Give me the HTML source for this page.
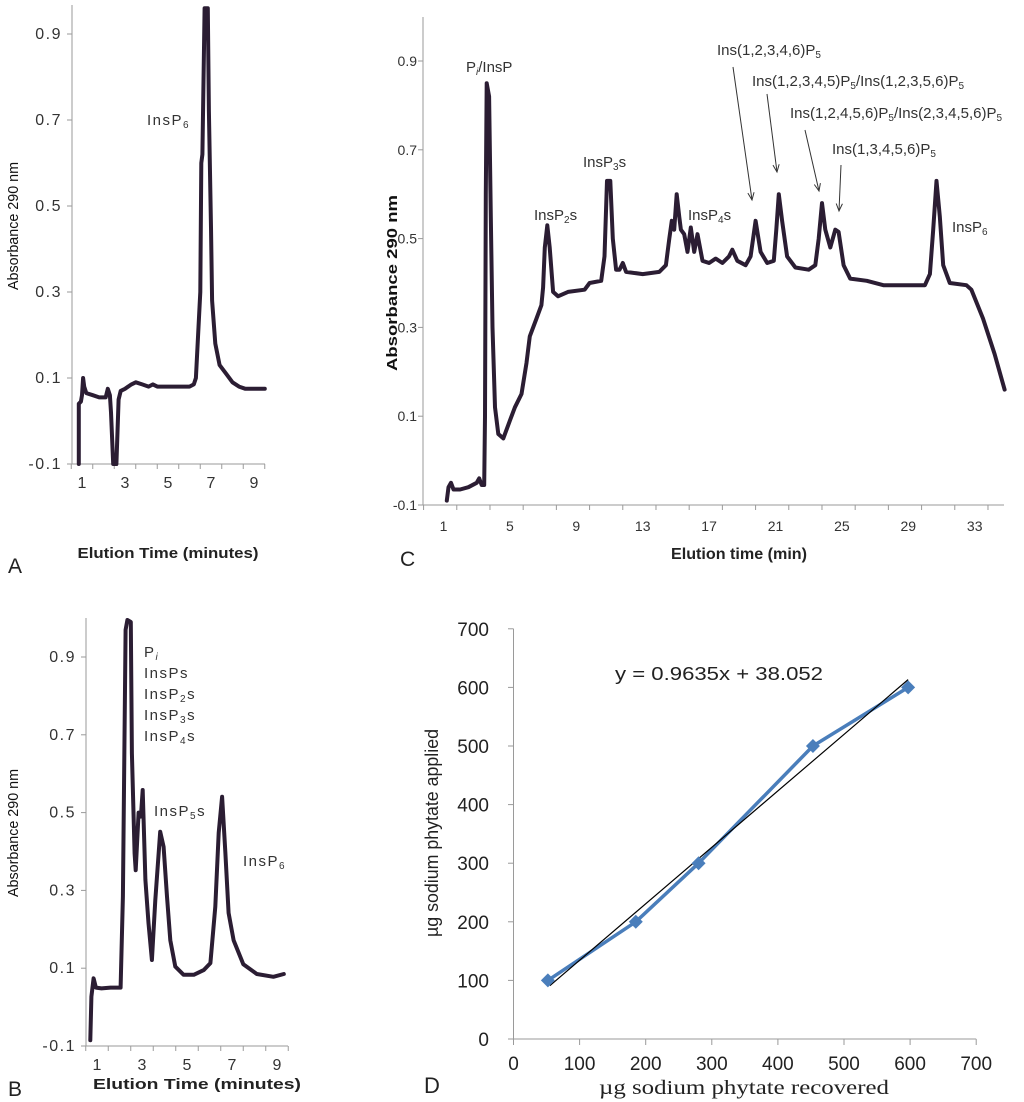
<!DOCTYPE html>
<html><head><meta charset="utf-8"><style>
html,body{margin:0;padding:0;background:#fff;}
svg{display:block;font-family:"Liberation Sans",sans-serif;}
</style></head><body>
<svg id="fig" xmlns="http://www.w3.org/2000/svg" width="1024" height="1102" viewBox="0 0 1024 1102">
<rect width="1024" height="1102" fill="#fff"/>
<g id="annC" font-size="15" fill="#333">
  <text x="466" y="72">P<tspan font-size="10" dy="3" font-style="italic">i</tspan><tspan dy="-3">/InsP</tspan></text>
  <text x="534" y="220">InsP<tspan font-size="10" dy="3">2</tspan><tspan dy="-3">s</tspan></text>
  <text x="583" y="167">InsP<tspan font-size="10" dy="3">3</tspan><tspan dy="-3">s</tspan></text>
  <text x="688" y="220">InsP<tspan font-size="10" dy="3">4</tspan><tspan dy="-3">s</tspan></text>
  <text x="952" y="232">InsP<tspan font-size="10" dy="3">6</tspan></text>
  <text x="717" y="55">Ins(1,2,3,4,6)P<tspan font-size="10" dy="3">5</tspan></text>
  <text x="752" y="86">Ins(1,2,3,4,5)P<tspan font-size="10" dy="3">5</tspan><tspan dy="-3">/Ins(1,2,3,5,6)P</tspan><tspan font-size="10" dy="3">5</tspan></text>
  <text x="790" y="118">Ins(1,2,4,5,6)P<tspan font-size="10" dy="3">5</tspan><tspan dy="-3">/Ins(2,3,4,5,6)P</tspan><tspan font-size="10" dy="3">5</tspan></text>
  <text x="832" y="154">Ins(1,3,4,5,6)P<tspan font-size="10" dy="3">5</tspan></text>
</g>
<g id="annA" font-size="15" fill="#333" letter-spacing="1.5">
  <text x="147" y="125">InsP<tspan font-size="10" dy="3">6</tspan></text>
</g>
<g id="annB" font-size="15" fill="#333" letter-spacing="1.5">
  <text x="144" y="657">P<tspan font-size="10" dy="3" font-style="italic">i</tspan></text>
  <text x="144" y="678">InsPs</text>
  <text x="144" y="699">InsP<tspan font-size="10" dy="3">2</tspan><tspan dy="-3">s</tspan></text>
  <text x="144" y="720">InsP<tspan font-size="10" dy="3">3</tspan><tspan dy="-3">s</tspan></text>
  <text x="144" y="741">InsP<tspan font-size="10" dy="3">4</tspan><tspan dy="-3">s</tspan></text>
  <text x="154" y="816">InsP<tspan font-size="10" dy="3">5</tspan><tspan dy="-3">s</tspan></text>
  <text x="243" y="866">InsP<tspan font-size="10" dy="3">6</tspan></text>
</g>
</svg>
<script>
const A_t=[0.85,0.85,0.95,1.0,1.05,1.1,1.2,1.5,1.8,2.1,2.2,2.3,2.35,2.45,2.6,2.7,2.8,3.0,3.3,3.5,3.8,4.1,4.3,4.5,5.0,5.5,6.0,6.2,6.3,6.4,6.5,6.55,6.6,6.7,6.85,6.9,7.0,7.05,7.2,7.4,7.7,8.0,8.3,8.6,9.0,9.3,9.5];
const A_v=[-0.1,0.04,0.045,0.06,0.1,0.08,0.065,0.06,0.055,0.055,0.075,0.06,0.02,-0.1,-0.1,0.05,0.07,0.075,0.085,0.09,0.085,0.08,0.085,0.08,0.08,0.08,0.08,0.085,0.1,0.2,0.3,0.6,0.62,0.96,0.96,0.72,0.45,0.28,0.18,0.13,0.11,0.09,0.08,0.075,0.075,0.075,0.075];
const B_t=[0.7,0.75,0.85,0.95,1.2,1.6,2.05,2.15,2.27,2.35,2.5,2.55,2.67,2.72,2.85,2.95,3.03,3.15,3.29,3.44,3.59,3.81,3.96,4.11,4.26,4.48,4.85,5.3,5.74,6.04,6.26,6.41,6.56,6.7,6.85,7.07,7.5,8.1,8.84,9.3];
const B_v=[-0.085,0.027,0.074,0.05,0.048,0.05,0.05,0.284,0.97,0.995,0.99,0.652,0.395,0.352,0.5,0.49,0.558,0.327,0.216,0.121,0.275,0.451,0.412,0.284,0.172,0.104,0.083,0.083,0.095,0.113,0.258,0.448,0.541,0.4,0.242,0.172,0.11,0.085,0.078,0.085];
const C_t=[1.2,1.3,1.45,1.6,2.0,2.5,3.0,3.15,3.3,3.45,3.5,3.55,3.6,3.75,3.85,3.95,4.1,4.3,4.6,5.0,5.3,5.7,6.0,6.2,6.6,6.9,7.0,7.1,7.25,7.4,7.6,7.9,8.5,9.5,9.8,10.5,10.7,10.85,11.05,11.2,11.4,11.6,11.8,12.0,13,14,14.4,14.6,14.75,14.9,15.05,15.2,15.3,15.5,15.7,15.9,16.1,16.3,16.6,17.0,17.4,17.8,18.2,18.4,18.7,19.2,19.5,19.8,20.1,20.5,20.9,21.05,21.2,21.4,21.7,22.2,23.0,23.4,23.6,23.8,24.0,24.3,24.6,24.8,25.1,25.5,26.5,27.5,29,30,30.3,30.5,30.7,30.9,31.1,31.5,32.5,32.8,33.5,34.2,34.8];
const C_v=[-0.09,-0.06,-0.05,-0.065,-0.065,-0.06,-0.05,-0.04,-0.055,-0.055,0.1,0.6,0.85,0.82,0.55,0.3,0.12,0.06,0.05,0.09,0.12,0.15,0.22,0.28,0.32,0.35,0.39,0.48,0.53,0.48,0.38,0.37,0.38,0.385,0.4,0.405,0.46,0.63,0.63,0.5,0.43,0.43,0.445,0.425,0.42,0.425,0.44,0.5,0.54,0.52,0.6,0.55,0.52,0.51,0.47,0.525,0.47,0.51,0.45,0.445,0.455,0.445,0.46,0.475,0.45,0.44,0.46,0.54,0.47,0.445,0.45,0.52,0.6,0.54,0.46,0.435,0.43,0.44,0.5,0.58,0.52,0.48,0.52,0.515,0.44,0.41,0.405,0.395,0.395,0.395,0.42,0.52,0.63,0.55,0.44,0.4,0.395,0.385,0.32,0.24,0.16];
const D_x=[52,185,280,453,597];
const D_y=[100,200,300,500,600];
const D_slope=0.9635, D_icept=38.052;
const absTicks=[-0.1,0.1,0.3,0.5,0.7,0.9];
const absTickLabels=["-0.1","0.1","0.3","0.5","0.7","0.9"];
const abTimeLabels=[1,3,5,7,9];
const cTimeLabels=[1,5,9,13,17,21,25,29,33];
const dTicks=[0,100,200,300,400,500,600,700];

const NS="http://www.w3.org/2000/svg";
const svg=document.getElementById('fig');
function mk(tag,attrs,parent){const e=document.createElementNS(NS,tag);for(const k in attrs)e.setAttribute(k,attrs[k]);(parent||svg).appendChild(e);return e;}
function txt(s,attrs,parent){const e=mk('text',attrs,parent);e.textContent=s;return e;}

const AX='#9a9a9a', TR='#2b1d33';
const panels={
 A:{xs:t=>82+(t-1)*21.5, ys:v=>464-(v+0.1)/0.2*86, x0:72,x1:265,yTop:5,yBot:464,t:A_t,v:A_v,labs:abTimeLabels,tickStart:0.5,tickStep:1,fs:16,ls:1.5,ylx:62,lyo:24},
 B:{xs:t=>97+(t-1)*22.5, ys:v=>1046-(v+0.1)/0.2*77.8, x0:86,x1:288,yTop:618,yBot:1046,t:B_t,v:B_v,labs:abTimeLabels,tickStart:0.5,tickStep:1,fs:16,ls:1.5,ylx:76,lyo:24},
 C:{xs:t=>443.5+(t-1)*16.6, ys:v=>505-(v+0.1)/0.2*88.8, x0:423,x1:1004,yTop:17,yBot:505,t:C_t,v:C_v,labs:cTimeLabels,tickStart:-0.2,tickStep:2,fs:14,ls:0,ylx:417,lyo:26}
};
for(const key in panels){
 const P=panels[key];
 const g=mk('g',{});
 
 
 const ya=mk('line',{x1:P.x0,y1:P.yTop,x2:P.x0,y2:P.yBot,stroke:AX,'stroke-width':1},g);
 
 
 const xa=mk('line',{x1:P.x0,y1:P.yBot,x2:P.x1,y2:P.yBot,stroke:AX,'stroke-width':1},g);
 
 
 absTicks.forEach((v,i)=>{
  const y=P.ys(v);
  mk('line',{x1:P.x0-5,y1:y,x2:P.x0,y2:y,stroke:AX},g);
  const t=txt(absTickLabels[i],{x:P.ylx,y:y+5,'text-anchor':'end','font-size':P.fs,fill:'#333','letter-spacing':P.ls},g);
  
  
 });
 for(let tt=P.tickStart;P.xs(tt)<=P.x1+1;tt+=P.tickStep){const x=P.xs(tt);mk('line',{x1:x,y1:P.yBot,x2:x,y2:P.yBot+5,stroke:AX},g);}
 P.labs.forEach(l=>{
  const t=txt(String(l),{x:P.xs(l),y:P.yBot+P.lyo,'text-anchor':'middle','font-size':P.fs,fill:'#333'},g);
  
  
 });
 const pts=P.t.map((t,i)=>P.xs(t).toFixed(1)+','+P.ys(P.v[i]).toFixed(1)).join(' ');
 const pl=mk('polyline',{points:pts,fill:'none',stroke:TR,'stroke-width':4,'stroke-linejoin':'round','stroke-linecap':'round'},g);
 
 
}
let e;
e=txt('Absorbance 290 nm',{x:0,y:0,transform:'translate(18,226) rotate(-90)','text-anchor':'middle','font-size':15,fill:'#111',textLength:128,lengthAdjust:'spacingAndGlyphs'});


e=txt('Elution Time (minutes)',{x:168,y:558,'text-anchor':'middle','font-size':15,'font-weight':'bold',fill:'#222',textLength:181,lengthAdjust:'spacingAndGlyphs'});


e=txt('A',{x:8,y:573,'font-size':21,fill:'#222'});


e=txt('Absorbance 290 nm',{x:0,y:0,transform:'translate(18,833) rotate(-90)','text-anchor':'middle','font-size':15,fill:'#111',textLength:128,lengthAdjust:'spacingAndGlyphs'});


e=txt('Elution Time (minutes)',{x:197,y:1089,'text-anchor':'middle','font-size':15,'font-weight':'bold',fill:'#222',textLength:208,lengthAdjust:'spacingAndGlyphs'});


e=txt('B',{x:8,y:1096,'font-size':21,fill:'#222'});


e=txt('Absorbance 290 nm',{x:0,y:0,transform:'translate(397,283) rotate(-90)','text-anchor':'middle','font-size':15,'font-weight':'bold',fill:'#111',textLength:176,lengthAdjust:'spacingAndGlyphs'});


e=txt('Elution time (min)',{x:739,y:559,'text-anchor':'middle','font-size':16,'font-weight':'bold',fill:'#222',textLength:136,lengthAdjust:'spacingAndGlyphs'});


e=txt('C',{x:400,y:566,'font-size':21,fill:'#222'});


const arrows=[[733,67,752,200],[767,94,777,172],[805,130,819,191],[841,165,839,211]];
arrows.forEach(a=>{
 const g=mk('g',{});
 
 
 mk('line',{x1:a[0],y1:a[1],x2:a[2],y2:a[3],stroke:'#333','stroke-width':1},g);
 const ang=Math.atan2(a[3]-a[1],a[2]-a[0]);
 const L=8,w=0.4;
 mk('polyline',{points:`${a[2]-L*Math.cos(ang-w)},${a[3]-L*Math.sin(ang-w)} ${a[2]},${a[3]} ${a[2]-L*Math.cos(ang+w)},${a[3]-L*Math.sin(ang+w)}`,fill:'none',stroke:'#333','stroke-width':1},g);
});
const dxs=v=>513.5+v*0.661, dys=v=>1039-v*0.586;
const gd=mk('g',{});


e=mk('line',{x1:513.5,y1:dys(700),x2:513.5,y2:1039,stroke:AX},gd);


e=mk('line',{x1:513.5,y1:1039,x2:dxs(700),y2:1039,stroke:AX},gd);


dTicks.forEach(v=>{
 mk('line',{x1:508,y1:dys(v),x2:513.5,y2:dys(v),stroke:AX},gd);
 mk('line',{x1:dxs(v),y1:1039,x2:dxs(v),y2:1045,stroke:AX},gd);
 e=txt(String(v),{x:489,y:dys(v)+7,'text-anchor':'end','font-size':19,fill:'#222'},gd);
 
 
 e=txt(String(v),{x:dxs(v),y:1070,'text-anchor':'middle','font-size':19,fill:'#222'},gd);
 
 
});
const dpts=D_x.map((x,i)=>dxs(x)+','+dys(D_y[i])).join(' ');
e=mk('polyline',{points:dpts,fill:'none',stroke:'#4a7ebb','stroke-width':3.5,'stroke-linejoin':'round'},gd);


const tx0=D_x[0]+3, tx1=D_x[D_x.length-1];
e=mk('line',{x1:dxs(tx0),y1:dys(D_slope*tx0+D_icept),x2:dxs(tx1),y2:dys(D_slope*tx1+D_icept),stroke:'#000','stroke-width':1.2},gd);


D_x.forEach((x,i)=>{
 const cx=dxs(x), cy=dys(D_y[i]), s=7;
 e=mk('polygon',{points:`${cx},${cy-s} ${cx+s},${cy} ${cx},${cy+s} ${cx-s},${cy}`,fill:'#4a7ebb'},gd);
 
 
});
e=txt('y = 0.9635x + 38.052',{x:615,y:680,'font-size':18,fill:'#222',textLength:208,lengthAdjust:'spacingAndGlyphs'},gd);


e=txt('µg sodium phytate applied',{x:0,y:0,transform:'translate(438,833) rotate(-90)','text-anchor':'middle','font-size':18,fill:'#222',textLength:208,lengthAdjust:'spacingAndGlyphs'},gd);


e=txt('µg  sodium phytate  recovered',{x:744,y:1094,'text-anchor':'middle','font-size':20,fill:'#222',style:'font-family:"Liberation Serif",serif',textLength:290,lengthAdjust:'spacingAndGlyphs'},gd);


e=txt('D',{x:424,y:1093,'font-size':22,fill:'#222'},gd);


</script>
</body></html>
